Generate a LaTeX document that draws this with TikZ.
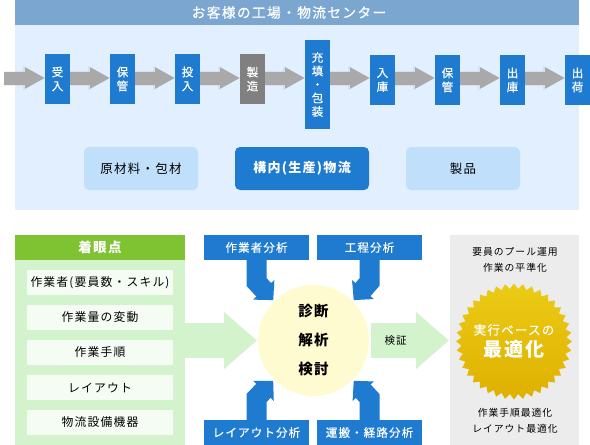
\documentclass[tikz,border=0pt]{standalone}
\usepackage{fontspec}
\setmainfont[LetterSpace=10]{Noto Sans CJK JP}
\newfontfamily\mediumjp[LetterSpace=10,FakeBold=0.6]{Noto Sans CJK JP}
\usetikzlibrary{arrows.meta, positioning, calc, shapes.geometric}
\definecolor{headblue}{HTML}{7BA6CF}
\definecolor{panelblue}{HTML}{E2EFFE}
\definecolor{boxblue}{HTML}{1F7BD0}
\definecolor{softblue}{HTML}{C0DFFA}
\definecolor{leafgreen}{HTML}{7FC232}
\definecolor{palegreen}{HTML}{D2F3CB}
\definecolor{paperwhite}{HTML}{F5FCF3}
\definecolor{circleyellow}{HTML}{FFFBD0}
\definecolor{panelgray}{HTML}{ECECEC}
\definecolor{arrowgray}{HTML}{A9A9A9}
\definecolor{stargoldtop}{HTML}{EBCB15}
\definecolor{stargoldbottom}{HTML}{DFB000}

\begin{document}
\begin{tikzpicture}[
    x=1pt,
    y=-1pt,
    every node/.style={inner sep=0pt, outer sep=0pt, align=center},
    panel/.style={fill=#1, minimum width=170pt, minimum height=25pt},
    stepbox/.style={
        fill=boxblue,
        text=white,
        minimum width=25pt,
        minimum height=50pt,
        font=\mediumjp\fontsize{11.5}{14}\selectfont
    },
    areabox/.style={
        fill=softblue,
        rounded corners=5pt,
        minimum width=114pt,
        minimum height=43pt,
        font=\fontsize{12.5}{14}\selectfont
    },
    pointbox/.style={
        fill=paperwhite,
        minimum width=146pt,
        minimum height=25pt,
        font=\fontsize{11.8}{14}\selectfont
    },
    studybox/.style={
        fill=boxblue,
        text=white,
        minimum width=105pt,
        minimum height=25pt,
        font=\mediumjp\fontsize{11.5}{14}\selectfont
    },
    flow/.style={
        draw=arrowgray,
        line width=13pt,
        -{Triangle[length=20pt,width=20pt]},
        preaction={draw=black, opacity=0.05, line width=15pt, -{Triangle[length=22pt,width=23pt]}}
    },
    bigflow/.style={
        draw=palegreen,
        line width=35pt,
        -{Triangle[length=33pt,width=55pt]}
    },
    study/.style={
        draw=boxblue,
        line width=20pt,
        shorten >=1.5pt,
        -{Triangle[length=14pt,width=28pt]}
    }
]
\useasboundingbox (0,0) rectangle (590,445);

% Upper panel
\node[panel=headblue, minimum width=564pt] (centerhead) at (297,12.5) {};
\node[text=white, font=\mediumjp\fontsize{13.7}{14}\selectfont] (centertitle) at (289,12.5) {お客様の工場・物流センター};
\node[panel=panelblue, minimum width=564pt, minimum height=185pt] (centerpanel) at (297,117.5) {};

% Process nodes
\node[stepbox] (ukeire) at (57.5,79) {受\\入};
\node[stepbox] (hokanA) at (122.5,79) {保\\管};
\node[stepbox] (tonyu) at (187.5,79) {投\\入};
\node[stepbox, fill=gray] (seizo) at (252.5,79) {製\\造};
\node[stepbox, minimum height=89pt, font=\mediumjp\fontsize{11.5}{13.5}\selectfont] (juten) at (317.5,84.5) {充\\填\\・\\包\\装};
\node[stepbox] (nyuko) at (382.5,80) {入\\庫};
\node[stepbox] (hokanB) at (447.5,80) {保\\管};
\node[stepbox] (shukko) at (512.5,80) {出\\庫};
\node[stepbox] (shukka) at (577.5,80) {出\\荷};
\coordinate (flowline) at (4,78);

% Main chain
\draw[flow] (flowline) -- (ukeire.west |- flowline);
\draw[flow] (ukeire.east |- flowline) -- (hokanA.west |- flowline);
\draw[flow] (hokanA.east |- flowline) -- (tonyu.west |- flowline);
\draw[flow] (tonyu.east |- flowline) -- (seizo.west |- flowline);
\draw[flow] (seizo.east |- flowline) -- (juten.west |- flowline);
\draw[flow] (juten.east |- flowline) -- (nyuko.west |- flowline);
\draw[flow] (nyuko.east |- flowline) -- (hokanB.west |- flowline);
\draw[flow] (hokanB.east |- flowline) -- (shukko.west |- flowline);
\draw[flow] (shukko.east |- flowline) -- (shukka.west |- flowline);

% Areas
\node[areabox] (genryo) at (141,168.5) {原材料・包材};
\node[areabox, fill=boxblue, text=white, minimum width=134pt, font=\fontsize{13}{14}\bfseries\selectfont] (konai) at (302,168.5) {構内(生産)物流};
\node[areabox] (seihin) at (463,168.5) {製品};

% Lower left
\node[panel=leafgreen, text=white, font=\fontsize{13.5}{14}\bfseries\selectfont] (kantenhead) at (100,247.5) {着眼点};
\node[panel=palegreen, minimum height=185pt] (kanten) at (100,352.5) {};
\node[pointbox] (sagyosha) at (100,282.5) {作業者(要員数・スキル)};
\node[pointbox] (hendo) at (100,317.5) {作業量の変動};
\node[pointbox] (tejun) at (100,352.5) {作業手順};
\node[pointbox] (layout) at (100,387.5) {レイアウト};
\node[pointbox] (setsubi) at (100,422.5) {物流設備機器};

% Center
\node[circle, fill=circleyellow, minimum size=111pt, font=\fontsize{14.5}{29}\bfseries\selectfont] (shindan) at (313.5,340.5) {診断\\解析\\検討};
\node[studybox] (sagyobunseki) at (256.5,247.5) {作業者分析};
\node[studybox] (koteibunseki) at (369.5,247.5) {工程分析};
\node[studybox] (layoutbunseki) at (256.5,432.5) {レイアウト分析};
\node[studybox] (unpanbunseki) at (369.5,432.5) {運搬・経路分析};

\draw[study] (sagyobunseki.south) -- ++(0,22) -- (shindan.135);
\draw[study] (koteibunseki.south) -- ++(0,22) -- (shindan.45);
\draw[study] (layoutbunseki.north) -- ++(0,-22) -- (shindan.225);
\draw[study] (unpanbunseki.north) -- ++(0,-22) -- (shindan.315);

% Right side
\node[fill=panelgray, minimum width=129pt, minimum height=210pt] (result) at (514.5,340) {};
\node[font=\fontsize{9.8}{16}\selectfont] (resultup) at (515,260) {要員のプール運用\\作業の平準化};
\node[font=\fontsize{9.8}{16}\selectfont] (resultdown) at (515,421) {作業手順最適化\\レイアウト最適化};
\node[star, star points=40, star point ratio=1.1, minimum size=116pt, top color=stargoldtop, bottom color=stargoldbottom] (saiteki) at (514,341.5) {};
\node[text=white] (saitekitext) at (saiteki.center)
    {\mediumjp\fontsize{12.5}{14}\selectfont 実行ベースの\\[4pt]\fontsize{19}{22}\bfseries\selectfont 最適化};

% Arrows between the blocks
\draw[bigflow, shorten >=1pt] (kanten.east |- shindan) -- (shindan.west);
\draw[bigflow, shorten <=2pt, shorten >=1pt] (shindan.east) -- node[pos=0.33, black, font=\fontsize{10.5}{14}\selectfont] (kensho) {検証} (result.west |- shindan);

\end{tikzpicture}
\end{document}
